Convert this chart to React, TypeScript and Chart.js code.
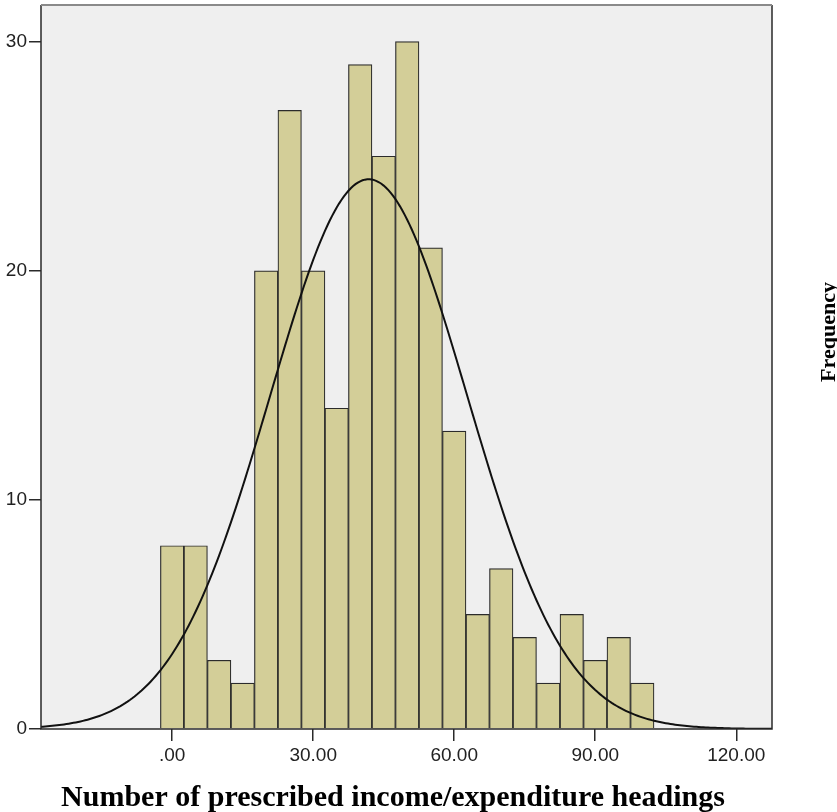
import React, { useEffect, useRef } from "react";
import { Chart, registerables } from "chart.js";

Chart.register(...registerables);

// Histogram bins (centre of each 5-unit bin) and their frequencies
const BIN_CENTERS = [0, 5, 10, 15, 20, 25, 30, 35, 40, 45, 50, 55, 60, 65, 70, 75, 80, 85, 90, 95, 100];
const FREQUENCIES = [8, 8, 3, 2, 20, 27, 20, 14, 29, 25, 30, 21, 13, 5, 7, 4, 2, 5, 3, 4, 2];
const BIN_WIDTH = 5;

const X_TICKS = [0, 30, 60, 90, 120];
const X_TICK_LABELS = [".00", "30.00", "60.00", "90.00", "120.00"];
const Y_TICKS = [0, 10, 20, 30];

const X_TITLE = "Number of prescribed income/expenditure headings";
const Y_TITLE = "Frequency";

// Fitted normal curve from the histogram's own mean and standard deviation
function normalCurve() {
  const n = FREQUENCIES.reduce((a, b) => a + b, 0);
  const mean = BIN_CENTERS.reduce((s, x, i) => s + x * FREQUENCIES[i], 0) / n;
  const variance =
    BIN_CENTERS.reduce((s, x, i) => s + FREQUENCIES[i] * (x - mean) * (x - mean), 0) / (n - 1);
  const sd = Math.sqrt(variance);
  const pts: { x: number; y: number }[] = [];
  for (let x = -28; x <= 128; x += 0.5) {
    const z = (x - mean) / sd;
    const y = (n * BIN_WIDTH) / (sd * Math.sqrt(2 * Math.PI)) * Math.exp(-0.5 * z * z);
    pts.push({ x, y });
  }
  return pts;
}

const framePlugin = {
  id: "frame",
  beforeDatasetsDraw(chart: any) {
    const { ctx, chartArea: a } = chart;
    ctx.save();
    ctx.fillStyle = "#EFEFEF";
    ctx.fillRect(a.left, a.top, a.right - a.left, a.bottom - a.top);
    ctx.restore();
  },
  afterDraw(chart: any) {
    const { ctx, chartArea: a } = chart;
    ctx.save();
    ctx.strokeStyle = "#2a2a2a";
    ctx.lineWidth = 1.5;
    ctx.beginPath();
    ctx.moveTo(a.left, a.top);
    ctx.lineTo(a.left, a.bottom);
    ctx.lineTo(a.right, a.bottom);
    ctx.lineTo(a.right, a.top);
    ctx.stroke();
    ctx.strokeStyle = "#8a8a8a";
    ctx.lineWidth = 2;
    ctx.beginPath();
    ctx.moveTo(a.left, a.top);
    ctx.lineTo(a.right, a.top);
    ctx.stroke();

    // x-axis title
    ctx.fillStyle = "#000";
    ctx.font = "bold 30px 'Liberation Serif', 'Times New Roman', serif";
    ctx.textAlign = "center";
    ctx.textBaseline = "alphabetic";
    ctx.fillText(X_TITLE, 393, 806);

    // y-axis title (right side, reading upward)
    ctx.font = "bold 22px 'Liberation Serif', 'Times New Roman', serif";
    ctx.translate(835, 332);
    ctx.rotate(-Math.PI / 2);
    ctx.fillText(Y_TITLE, 0, 0);
    ctx.restore();
  },
};

export default function App() {
  const canvasRef = useRef<HTMLCanvasElement | null>(null);

  useEffect(() => {
    const canvas = canvasRef.current;
    if (!canvas) return;
    const tickFont = { family: "'Liberation Sans', Arial, sans-serif", size: 19 };
    const chart = new Chart(canvas, {
      type: "bar",
      data: {
        datasets: [
          {
            type: "line",
            data: normalCurve(),
            borderColor: "#111",
            borderWidth: 2,
            pointRadius: 0,
            fill: false,
            tension: 0,
            order: 0,
          } as any,
          {
            type: "bar",
            data: BIN_CENTERS.map((x, i) => ({ x, y: FREQUENCIES[i] })),
            backgroundColor: "#D3CE98",
            borderColor: "#2b2b2b",
            borderWidth: 1.2,
            barPercentage: 1,
            categoryPercentage: 1,
            order: 1,
          } as any,
        ],
      },
      options: {
        animation: false,
        responsive: true,
        maintainAspectRatio: false,
        layout: { padding: { top: 5, right: 65, left: 0, bottom: 0 } },
        plugins: { legend: { display: false }, tooltip: { enabled: false } },
        scales: {
          x: {
            type: "linear",
            min: -27.9,
            max: 127.6,
            offset: false,
            afterFit: (s: any) => {
              s.height = 83;
              s.paddingLeft = 0;
              s.paddingRight = 0;
            },
            afterBuildTicks: (s: any) => {
              s.ticks = X_TICKS.map((v) => ({ value: v }));
            },
            ticks: {
              font: tickFont,
              color: "#222",
              padding: 3,
              maxRotation: 0,
              autoSkip: false,
              callback: (v: any) => {
                const i = X_TICKS.indexOf(Number(v));
                return i >= 0 ? X_TICK_LABELS[i] : "";
              },
            },
            grid: {
              display: true,
              offset: false,
              drawOnChartArea: false,
              drawTicks: true,
              tickLength: 12,
              color: "#2a2a2a",
              lineWidth: 1.5,
            },
            border: { display: false },
          } as any,
          y: {
            type: "linear",
            min: 0,
            max: 31.6,
            afterFit: (s: any) => {
              s.width = 41;
              s.paddingTop = 0;
              s.paddingBottom = 0;
            },
            afterBuildTicks: (s: any) => {
              s.ticks = Y_TICKS.map((v) => ({ value: v }));
            },
            ticks: {
              font: tickFont,
              color: "#222",
              padding: 2,
              callback: (v: any) => String(v),
            },
            grid: {
              display: true,
              drawOnChartArea: false,
              drawTicks: true,
              tickLength: 12,
              color: "#2a2a2a",
              lineWidth: 1.5,
            },
            border: { display: false },
          } as any,
        },
      },
      plugins: [framePlugin],
    });
    return () => chart.destroy();
  }, []);

  return (
    <div style={{ position: "absolute", left: 0, top: 0, width: 837, height: 812, background: "#fff" }}>
      <canvas ref={canvasRef} style={{ display: "block" }} />
    </div>
  );
}
